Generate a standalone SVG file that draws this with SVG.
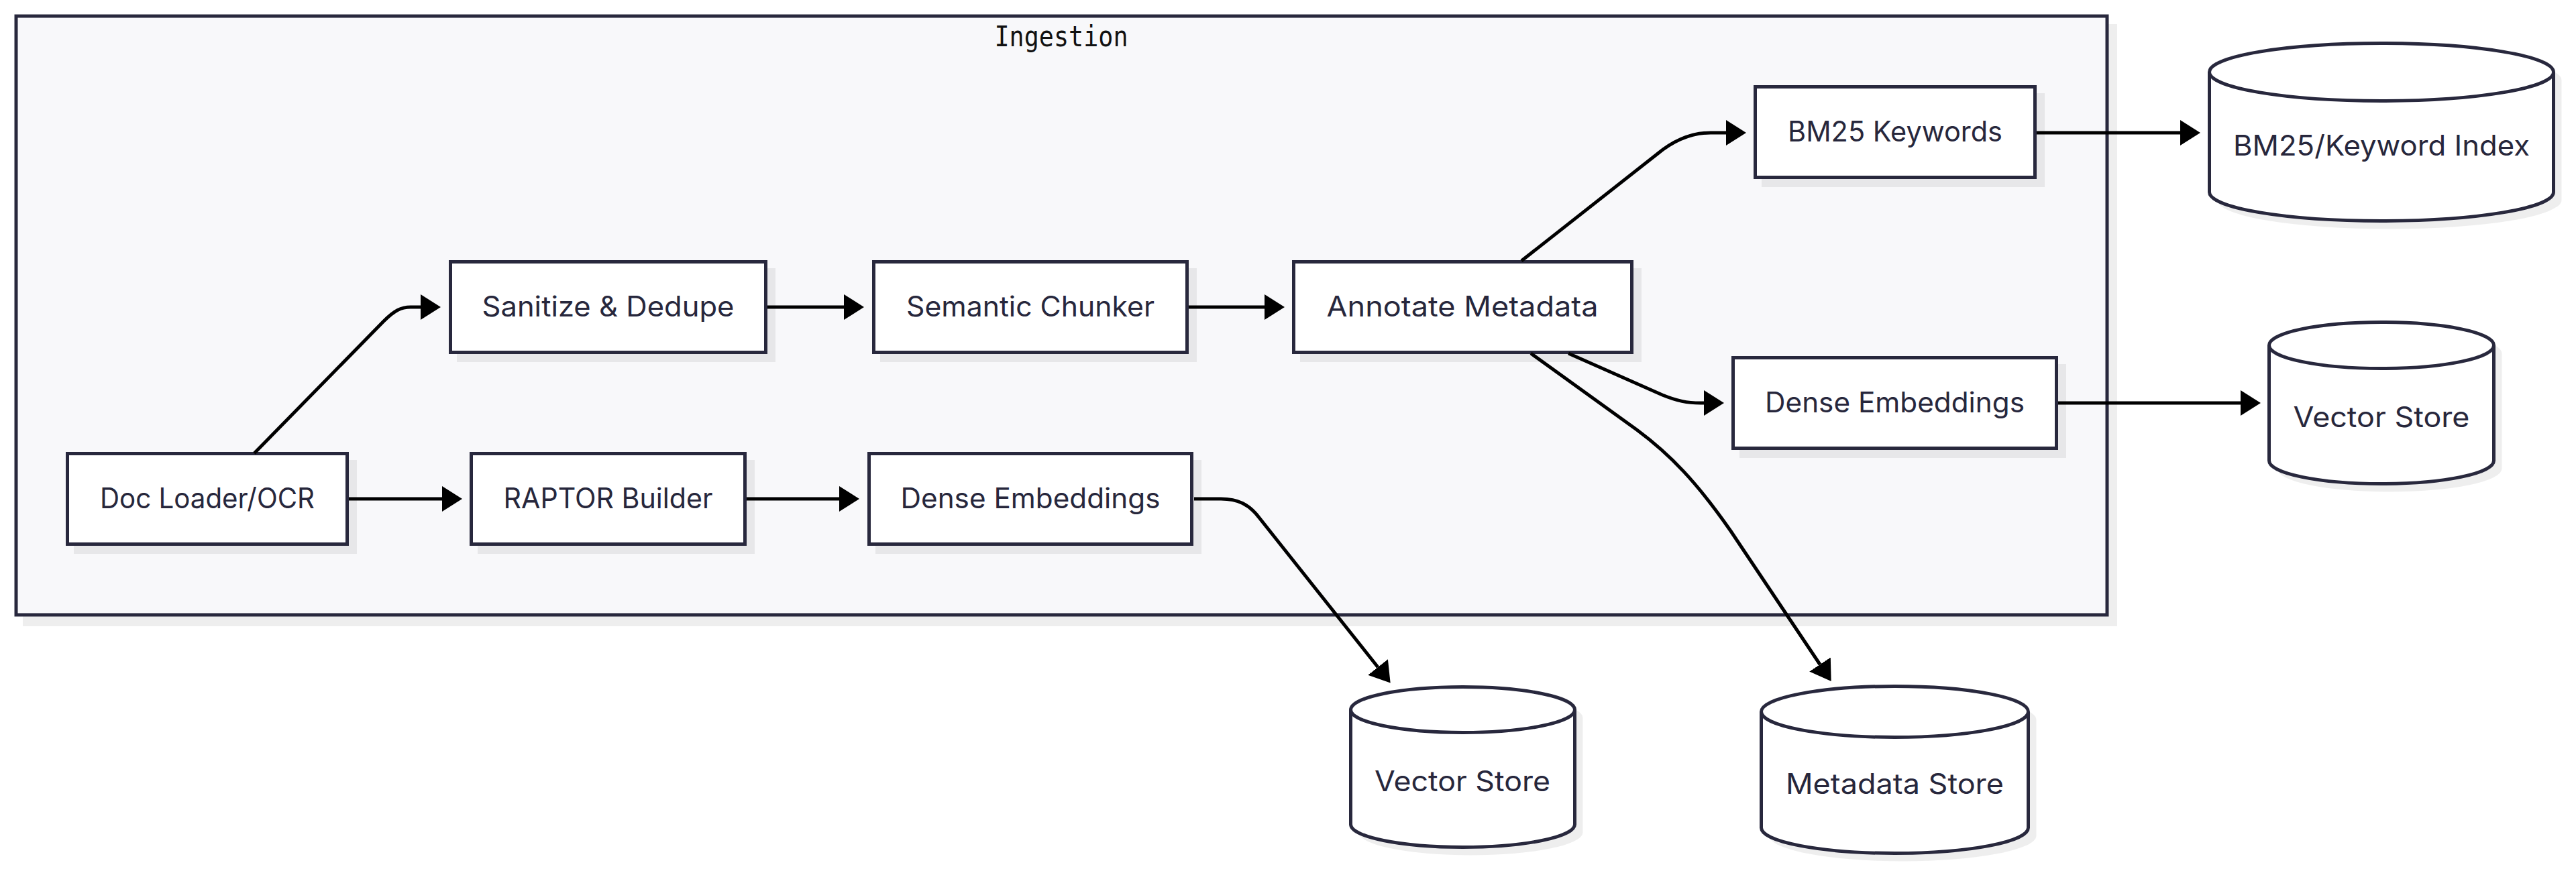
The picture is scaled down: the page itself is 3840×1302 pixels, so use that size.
<svg xmlns="http://www.w3.org/2000/svg" width="3840" height="1302" viewBox="0 0 3840 1302">
<style>
.bg{fill:#ffffff}
.cluster{fill:#f8f8fa;stroke:#28283d;stroke-width:5}
.shadow{fill:#000000;fill-opacity:0.065}
.box{fill:#ffffff;stroke:#28283d;stroke-width:5}
.lbl{font-family:Inter,"Noto Sans","Liberation Sans",sans-serif;font-size:42px;fill:#27273c;text-anchor:middle}
.clbl{font-family:"DejaVu Sans Mono","Liberation Mono",monospace;font-size:42px;fill:#111111;text-anchor:middle}
.edge{fill:none;stroke:#000000;stroke-width:5}
</style>
<defs>
<marker id="arrow" viewBox="0 0 30 38" markerWidth="30" markerHeight="38" refX="0" refY="19" orient="auto" markerUnits="userSpaceOnUse">
<path d="M0,0 L30,19 L0,38 z" fill="#000000"/>
</marker>
</defs>
<rect class="bg" x="0" y="0" width="3840" height="1302"/>

<g id="cluster-ingestion">
<rect class="shadow" x="34" y="36" width="3122" height="898"/>
<rect class="cluster" x="24" y="24" width="3117" height="893"/>
<text class="clbl" x="1582" y="69" textLength="199" lengthAdjust="spacingAndGlyphs">Ingestion</text>
</g>

<g id="node-docloader">
<rect class="shadow" x="110" y="686" width="422" height="140"/>
<rect class="box" x="100.5" y="676.5" width="417" height="135"/>
<text class="lbl" x="309" y="758" textLength="320" lengthAdjust="spacingAndGlyphs">Doc Loader/OCR</text>
</g>

<g id="node-raptor">
<rect class="shadow" x="712" y="686" width="413" height="140"/>
<rect class="box" x="702.5" y="676.5" width="408" height="135"/>
<text class="lbl" x="906.5" y="758" textLength="312" lengthAdjust="spacingAndGlyphs">RAPTOR Builder</text>
</g>

<g id="node-dense-lower">
<rect class="shadow" x="1305" y="686" width="486" height="140"/>
<rect class="box" x="1295.5" y="676.5" width="481" height="135"/>
<text class="lbl" x="1536" y="758" textLength="387" lengthAdjust="spacingAndGlyphs">Dense Embeddings</text>
</g>

<g id="node-sanitize">
<rect class="shadow" x="681" y="400" width="475" height="140"/>
<rect class="box" x="671.5" y="390.5" width="470" height="135"/>
<text class="lbl" x="906.5" y="472" textLength="376" lengthAdjust="spacingAndGlyphs">Sanitize &amp; Dedupe</text>
</g>

<g id="node-semantic">
<rect class="shadow" x="1312" y="400" width="472" height="140"/>
<rect class="box" x="1302.5" y="390.5" width="467" height="135"/>
<text class="lbl" x="1536" y="472" textLength="370" lengthAdjust="spacingAndGlyphs">Semantic Chunker</text>
</g>

<g id="node-annotate">
<rect class="shadow" x="1938" y="400" width="509" height="140"/>
<rect class="box" x="1928.5" y="390.5" width="504" height="135"/>
<text class="lbl" x="2180" y="472" textLength="405" lengthAdjust="spacingAndGlyphs">Annotate Metadata</text>
</g>

<g id="node-bm25kw">
<rect class="shadow" x="2626" y="139" width="422" height="140"/>
<rect class="box" x="2616.5" y="129.5" width="417" height="135"/>
<text class="lbl" x="2825" y="211" textLength="320" lengthAdjust="spacingAndGlyphs">BM25 Keywords</text>
</g>

<g id="node-dense-upper">
<rect class="shadow" x="2593" y="543" width="487" height="140"/>
<rect class="box" x="2583.5" y="533.5" width="482" height="135"/>
<text class="lbl" x="2824.5" y="615" textLength="387" lengthAdjust="spacingAndGlyphs">Dense Embeddings</text>
</g>

<g id="node-bm25index">
<path class="shadow" transform="translate(12,12)" d="M3293.5,107.5 a256.5,43 0 0 0 513,0 a256.5,43 0 0 0 -513,0 l0,179 a256.5,43 0 0 0 513,0 l0,-179"/>
<path class="box" d="M3293.5,107.5 a256.5,43 0 0 0 513,0 a256.5,43 0 0 0 -513,0 l0,179 a256.5,43 0 0 0 513,0 l0,-179"/>
<text class="lbl" x="3550" y="232" textLength="442" lengthAdjust="spacingAndGlyphs">BM25/Keyword Index</text>
</g>

<g id="node-vector-right">
<path class="shadow" transform="translate(12,12)" d="M3382.5,515 a167.5,34.5 0 0 0 335,0 a167.5,34.5 0 0 0 -335,0 l0,172 a167.5,34.5 0 0 0 335,0 l0,-172"/>
<path class="box" d="M3382.5,515 a167.5,34.5 0 0 0 335,0 a167.5,34.5 0 0 0 -335,0 l0,172 a167.5,34.5 0 0 0 335,0 l0,-172"/>
<text class="lbl" x="3550" y="637" textLength="263" lengthAdjust="spacingAndGlyphs">Vector Store</text>
</g>

<g id="node-vector-bottom">
<path class="shadow" transform="translate(12,12)" d="M2013.5,1058.5 a167,34 0 0 0 334,0 a167,34 0 0 0 -334,0 l0,171 a167,34 0 0 0 334,0 l0,-171"/>
<path class="box" d="M2013.5,1058.5 a167,34 0 0 0 334,0 a167,34 0 0 0 -334,0 l0,171 a167,34 0 0 0 334,0 l0,-171"/>
<text class="lbl" x="2180" y="1180" textLength="262" lengthAdjust="spacingAndGlyphs">Vector Store</text>
</g>

<g id="node-metadata">
<path class="shadow" transform="translate(12,12)" d="M2625.5,1061.5 a199,38 0 0 0 398,0 a199,38 0 0 0 -398,0 l0,173 a199,38 0 0 0 398,0 l0,-173"/>
<path class="box" d="M2625.5,1061.5 a199,38 0 0 0 398,0 a199,38 0 0 0 -398,0 l0,173 a199,38 0 0 0 398,0 l0,-173"/>
<text class="lbl" x="2824.5" y="1184" textLength="325" lengthAdjust="spacingAndGlyphs">Metadata Store</text>
</g>

<g id="connectors">
<path class="edge" marker-end="url(#arrow)" d="M379,676 L572,479 C588,463 598,458 612,458 L627,458"/>
<path class="edge" marker-end="url(#arrow)" d="M520,744 L659,744"/>
<path class="edge" marker-end="url(#arrow)" d="M1113,744 L1251,744"/>
<path class="edge" marker-end="url(#arrow)" d="M1144,458 L1258,458"/>
<path class="edge" marker-end="url(#arrow)" d="M1772,458 L1885,458"/>
<path class="edge" marker-end="url(#arrow)" d="M2268,389 L2470,230 C2494,210 2520,198 2550,198 L2573,198"/>
<path class="edge" marker-end="url(#arrow)" d="M2338,527 L2478,589 C2500,598 2515,601 2535,601 L2540,601"/>
<path class="edge" marker-end="url(#arrow)" d="M2282,527 L2440,641 C2490,678 2530,720 2580,792 L2713,991"/>
<path class="edge" marker-end="url(#arrow)" d="M1780,744 L1820,744 C1845,744 1862,752 1877,772 L2054,995"/>
<path class="edge" marker-end="url(#arrow)" d="M3036,198 L3250,198"/>
<path class="edge" marker-end="url(#arrow)" d="M3068,601 L3340,601"/>
</g>
</svg>
